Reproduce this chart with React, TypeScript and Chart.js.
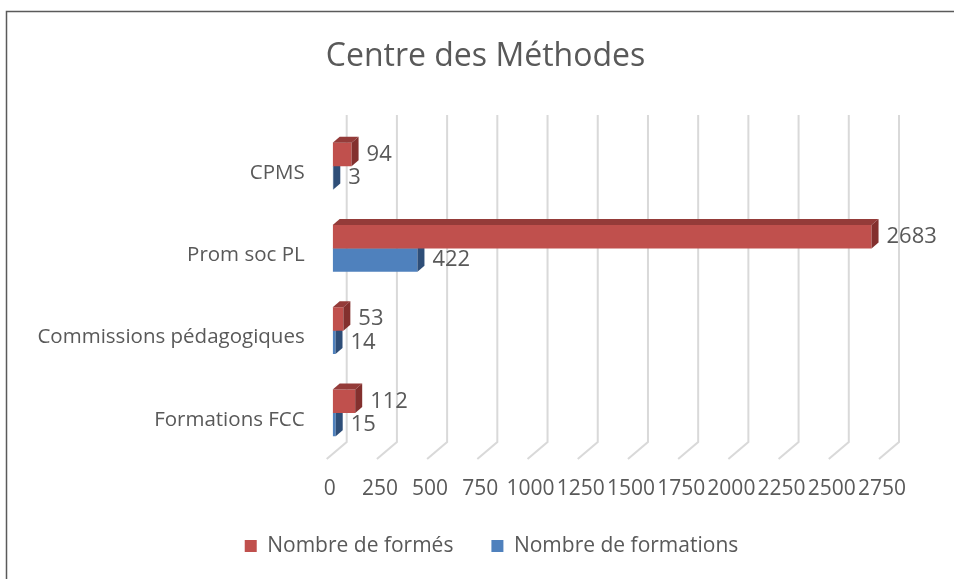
import React, { useEffect, useRef } from "react";
import { Chart, registerables } from "chart.js";

Chart.register(...registerables);

const categories = ["CPMS", "Prom soc PL", "Commissions pédagogiques", "Formations FCC"];
const formesValues = [94, 2683, 53, 112];
const formationsValues = [3, 422, 14, 15];
const seriesNames = ["Nombre de formés", "Nombre de formations"];
const titleText = "Centre des Méthodes";
const axisMax = 2750;
const axisStep = 250;

const FONT = "'Open Sans', 'Noto Sans', sans-serif";
const TEXT = "#595959";
const DX = 7;
const DY = 6;

const faceColors = [
  { top: "#943B39", side: "#83302E" },
  { top: "#3A6291", side: "#2E4E78" },
];

const threeD = {
  id: "threeD",
  afterLayout(chart: any) {
    if (chart.legend) {
      chart.legend.left += 47;
      chart.legend.right += 47;
    }
    if (chart.titleBlock) {
      chart.titleBlock.left += 41;
      chart.titleBlock.right += 41;
    }
  },
  beforeDraw(chart: any) {
    const ctx = chart.ctx;
    ctx.save();
    ctx.fillStyle = "#ffffff";
    ctx.fillRect(0, 0, chart.width, chart.height);
    ctx.strokeStyle = "#5a5a5a";
    ctx.lineWidth = 1.5;
    ctx.beginPath();
    ctx.moveTo(6.5, chart.height + 2);
    ctx.lineTo(6.5, 11.5);
    ctx.lineTo(chart.width + 2, 11.5);
    ctx.stroke();
    ctx.restore();
  },
  beforeDatasetsDraw(chart: any) {
    const ctx = chart.ctx;
    const xs = chart.scales.x;
    const area = chart.chartArea;
    ctx.save();
    ctx.strokeStyle = "#D9D9D9";
    ctx.lineWidth = 2;
    for (let v = 0; v <= axisMax; v += axisStep) {
      const xb = xs.getPixelForValue(v) + 14;
      ctx.beginPath();
      ctx.moveTo(xb, area.top - 10);
      ctx.lineTo(xb, area.bottom - 12);
      ctx.lineTo(xb - 20, area.bottom + 5);
      ctx.stroke();
    }
    ctx.restore();
  },
  afterDatasetDraw(chart: any, args: any) {
    const ctx = chart.ctx;
    const cols = faceColors[args.index];
    ctx.save();
    args.meta.data.forEach((bar: any) => {
      const { x, y, base, height } = bar.getProps(["x", "y", "base", "height"], true);
      const top = y - height / 2;
      const bottom = y + height / 2;
      ctx.fillStyle = cols.top;
      ctx.beginPath();
      ctx.moveTo(base, top);
      ctx.lineTo(x, top);
      ctx.lineTo(x + DX, top - DY);
      ctx.lineTo(base + DX, top - DY);
      ctx.closePath();
      ctx.fill();
      ctx.fillStyle = cols.side;
      ctx.beginPath();
      ctx.moveTo(x, top);
      ctx.lineTo(x + DX, top - DY);
      ctx.lineTo(x + DX, bottom - DY);
      ctx.lineTo(x, bottom);
      ctx.closePath();
      ctx.fill();
    });
    ctx.restore();
  },
  afterDatasetsDraw(chart: any) {
    const ctx = chart.ctx;
    ctx.save();
    ctx.font = `22px ${FONT}`;
    ctx.fillStyle = TEXT;
    ctx.textAlign = "left";
    ctx.textBaseline = "middle";
    chart.data.datasets.forEach((ds: any, i: number) => {
      const meta = chart.getDatasetMeta(i);
      meta.data.forEach((bar: any, j: number) => {
        const { x, y } = bar.getProps(["x", "y"], true);
        ctx.fillText(String(ds.data[j]), x + 15, y);
      });
    });
    ctx.restore();
  },
};

export default function App() {
  const ref = useRef<HTMLCanvasElement | null>(null);
  useEffect(() => {
    if (!ref.current) return;
    const chart = new Chart(ref.current, {
      type: "bar",
      data: {
        labels: categories,
        datasets: [
          {
            label: seriesNames[0],
            data: formesValues,
            backgroundColor: "#C0504D",
            borderWidth: 0,
          },
          {
            label: seriesNames[1],
            data: formationsValues,
            backgroundColor: "#4F81BD",
            borderWidth: 0,
          },
        ],
      },
      options: {
        indexAxis: "y",
        responsive: false,
        animation: false,
        devicePixelRatio: 1,
        layout: { padding: { left: 4, right: 69, top: 0, bottom: 12.5 } },
        datasets: { bar: { barPercentage: 1, categoryPercentage: 0.566 } },
        scales: {
          x: {
            min: 0,
            max: axisMax,
            grid: { display: false },
            border: { display: false },
            ticks: {
              stepSize: axisStep,
              color: TEXT,
              font: { family: FONT, size: 21 },
              padding: 14,
              labelOffset: -3,
              maxRotation: 0,
              autoSkip: false,
              callback: (v: any) => String(v),
            },
            afterFit: (s: any) => {
              s.height = 43.5;
            },
          },
          y: {
            grid: { display: false },
            border: { display: false },
            ticks: {
              color: TEXT,
              font: { family: FONT, size: 20.5 },
              padding: 20,
              labelOffset: 7,
            },
            afterFit: (s: any) => {
              s.width = 328.7;
            },
          },
        },
        plugins: {
          title: {
            display: true,
            text: titleText,
            color: TEXT,
            font: { family: FONT, size: 32, weight: "normal" },
            padding: { top: 37.6, bottom: 49 },
          },
          legend: {
            position: "bottom",
            labels: {
              color: TEXT,
              font: { family: FONT, size: 21 },
              boxWidth: 12,
              boxHeight: 12,
              padding: 38,
            },
          },
          tooltip: { enabled: false },
        },
      },
      plugins: [threeD],
    });
    return () => chart.destroy();
  }, []);
  return (
    <div style={{ position: "fixed", left: 0, top: 0, width: 954, height: 579 }}>
      <canvas ref={ref} width={954} height={579} style={{ display: "block" }} />
    </div>
  );
}
